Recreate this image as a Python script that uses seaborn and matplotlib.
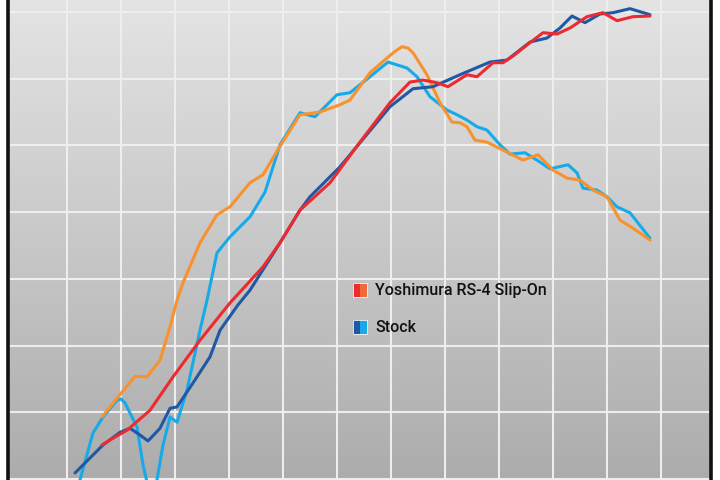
import numpy as np
import pandas as pd
import matplotlib
matplotlib.use("Agg")
import matplotlib.pyplot as plt
from matplotlib.patches import Rectangle
from matplotlib.colors import LinearSegmentedColormap
import seaborn as sns

# ---- data (engine rpm vs output) ----
stock_hp_rpm = [1148, 1667, 1982, 2167, 2352, 2500, 2722, 2908, 3037, 3334, 3648, 3834,
                4167, 4389, 4945, 5315, 5500, 6056, 6426, 6982, 7408, 7778, 8278, 8834,
                9149, 9575, 9890, 10130, 10353, 10593, 10871, 11112, 11427, 11797]
stock_hp = [0.9, 5.1, 7.0, 7.6, 6.6, 5.7, 7.6, 10.6, 10.8, 14.4, 18.3, 22.3,
            26.1, 28.3, 35.4, 40.3, 42.3, 46.8, 50.4, 55.8, 58.5, 58.8, 60.6, 62.5,
            62.8, 65.5, 66.1, 67.6, 69.4, 68.4, 69.7, 69.9, 70.5, 69.6]

yosh_hp_rpm = [1648, 1889, 2111, 2537, 2963, 3463, 4019, 4630, 4945, 5315, 5871, 6426,
               6982, 7352, 7593, 7852, 8056, 8408, 8593, 8890, 9075, 9260, 9575, 9816,
               10075, 10316, 10630, 10927, 11186, 11482, 11797]
yosh_hp = [5.1, 6.3, 7.3, 10.3, 15.3, 20.8, 26.4, 31.8, 35.4, 40.3, 44.4, 50.5,
           56.4, 59.5, 59.8, 59.4, 58.8, 60.6, 60.3, 62.4, 62.4, 63.4, 65.4, 66.9,
           66.7, 67.6, 69.3, 69.9, 68.7, 69.3, 69.4]

yosh_tq_rpm = [1648, 1945, 2259, 2482, 2722, 2908, 3037, 3148, 3463, 3778, 4019, 4389,
               4630, 4945, 5315, 5686, 6056, 6241, 6612, 6926, 7075, 7204, 7315, 7408,
               7667, 7908, 8130, 8278, 8408, 8556, 8778, 9075, 9445, 9723, 10001, 10260,
               10501, 10742, 11001, 11242, 11482, 11797]
yosh_tq = [9.3, 12.3, 15.4, 15.3, 17.8, 22.8, 26.8, 29.4, 35.4, 39.6, 40.8, 44.4,
           45.6, 49.9, 54.6, 55.0, 56.1, 56.8, 60.9, 63.1, 64.1, 64.8, 64.6, 63.9,
           60.6, 56.4, 53.5, 53.4, 52.8, 50.8, 50.5, 49.3, 47.8, 48.6, 46.3, 45.1,
           44.8, 43.3, 42.3, 38.8, 37.6, 35.8]

stock_tq_rpm = [1241, 1482, 1667, 1926, 2000, 2074, 2296, 2408, 2537, 2667, 2778, 2908,
                3037, 3222, 3463, 3593, 3778, 4019, 4389, 4667, 4945, 5315, 5593, 6000,
                6241, 6612, 6945, 7297, 7482, 7723, 8038, 8223, 8408, 8593, 8778, 9019,
                9204, 9482, 9704, 9945, 10279, 10445, 10556, 10816, 11001, 11186, 11427,
                11797]
stock_tq = [-0.1, 6.9, 9.3, 11.8, 12.0, 11.4, 7.8, 2.1, -2.4, -0.1, 5.1, 9.3,
            8.5, 13.3, 22.3, 26.8, 33.9, 36.3, 39.3, 43.0, 50.1, 54.9, 54.3, 57.6,
            57.9, 60.3, 62.5, 61.6, 60.3, 57.3, 55.3, 54.6, 53.8, 52.8, 52.3, 50.1,
            48.7, 48.9, 47.8, 46.5, 47.1, 45.9, 43.6, 43.3, 42.3, 40.8, 39.9,
            36.1]

legend_labels = ["Yoshimura RS-4 Slip-On", "Stock"]

# ---- colours ----
C_RED = "#ec2a2f"
C_ORANGE = "#f7922f"
C_DBLUE = "#1f58a5"
C_LBLUE = "#16abe8"

sns.set_theme(style="white")
plt.rcParams["font.family"] = ["Roboto", "DejaVu Sans"]

fig = plt.figure(figsize=(7.2, 4.8), dpi=100)
ax = fig.add_axes([7.5 / 720, 0, 703 / 720, 1])

XMIN, XMAX = -102, 12918
YMIN, YMAX = -0.15, 71.8

# gradient background (light at top, darker at bottom)
grad = np.linspace(0, 1, 256).reshape(-1, 1)
cmap = LinearSegmentedColormap.from_list("bg", ["#e4e4e4", "#acacac"])
ax.imshow(grad, extent=[XMIN, XMAX, YMIN, YMAX], origin="upper", aspect="auto",
          cmap=cmap, zorder=0, interpolation="bilinear")

for xv in range(1000, 13000, 1000):
    ax.axvline(xv, color="#eeeeee", lw=1.5, zorder=1)
for yv in range(0, 80, 10):
    ax.axhline(yv, color="#eeeeee", lw=1.5, zorder=1)

def draw(xs, ys, color, z):
    df = pd.DataFrame({"rpm": xs, "val": ys})
    sns.lineplot(data=df, x="rpm", y="val", ax=ax, color=color, lw=2.2,
                 estimator=None, sort=False, zorder=z,
                 solid_joinstyle="round", solid_capstyle="round")

draw(stock_tq_rpm, stock_tq, C_LBLUE, 3)
draw(yosh_tq_rpm, yosh_tq, C_ORANGE, 4)
draw(stock_hp_rpm, stock_hp, C_DBLUE, 5)
draw(yosh_hp_rpm, yosh_hp, C_RED, 6)

ax.set_xlim(XMIN, XMAX)
ax.set_ylim(YMIN, YMAX)
ax.set_xlabel("")
ax.set_ylabel("")
ax.set_xticks([])
ax.set_yticks([])
for s in ["top", "bottom"]:
    ax.spines[s].set_visible(False)
for s in ["left", "right"]:
    ax.spines[s].set_color("#111111")
    ax.spines[s].set_linewidth(2.6)

# legend (manual, two-tone swatches)
def swatch(px_x, px_y, c1, c2):
    w, h = 7.3, 14
    for i, c in enumerate([c1, c2]):
        fig.add_artist(Rectangle(((px_x + i * w) / 720, 1 - (px_y + h) / 480),
                                 w / 720, h / 480, transform=fig.transFigure,
                                 facecolor=c, edgecolor="none", zorder=10))
    fig.add_artist(Rectangle((px_x / 720, 1 - (px_y + h) / 480), 2 * w / 720, h / 480,
                             transform=fig.transFigure, facecolor="none",
                             edgecolor="#f4f4f4", lw=0.6, zorder=11))

swatch(352.7, 283, C_RED, "#f36a3a")
swatch(352.7, 320, C_DBLUE, C_LBLUE)
fig.text(375 / 720, 1 - 290.5 / 480, legend_labels[0], fontsize=11.5,
         fontweight="medium", color="#111111", va="center", ha="left")
fig.text(375 / 720, 1 - 327.5 / 480, legend_labels[1], fontsize=11.5,
         fontweight="medium", color="#111111", va="center", ha="left")

fig.savefig("out.png", dpi=100, facecolor="white")
